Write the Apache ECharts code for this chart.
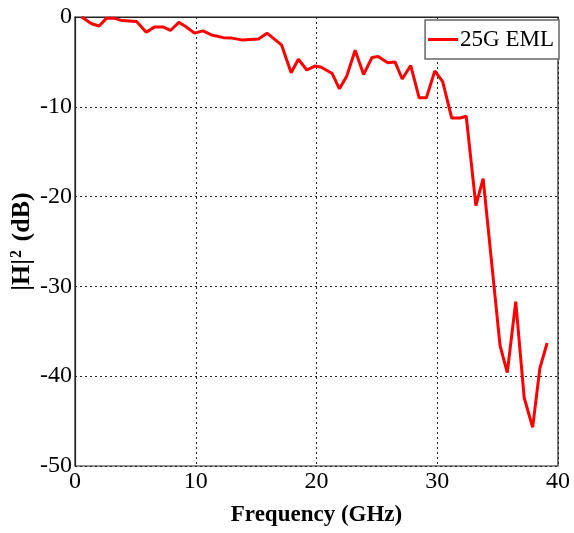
<!DOCTYPE html>
<html>
<head>
<meta charset="utf-8">
<script src="https://cdn.jsdelivr.net/npm/echarts@6/dist/echarts.min.js"></script>
<style>html,body{margin:0;padding:0;background:#fff;}#c{width:574px;height:533px;}</style>
</head>
<body>
<div id="c"></div>
<script>
const seriesName = '25G EML';
const xTicks = [0, 10, 20, 30, 40];
const yTicks = [0, -10, -20, -30, -40, -50];
const freq = [0.55, 1.38, 2.0, 2.6, 3.3, 3.9, 5.1, 5.9, 6.6, 7.3, 7.9, 8.6, 9.1, 9.9, 10.6, 11.3, 12.3, 13.0, 13.8, 14.5, 15.2, 15.9, 17.1, 17.9, 18.5, 19.2, 19.9, 20.4, 21.3, 21.9, 22.5, 23.2, 23.9, 24.6, 25.1, 25.9, 26.5, 27.1, 27.8, 28.5, 29.1, 29.8, 30.45, 31.2, 31.9, 32.4, 33.2, 33.8, 35.2, 35.8, 36.5, 37.2, 37.9, 38.5, 39.1];
const resp = [0, -0.75, -1.0, -0.15, -0.15, -0.4, -0.5, -1.7, -1.1, -1.1, -1.5, -0.6, -1.0, -1.8, -1.55, -2.0, -2.3, -2.35, -2.55, -2.5, -2.45, -1.8, -3.1, -6.2, -4.7, -5.9, -5.45, -5.6, -6.3, -8.0, -6.6, -3.7, -6.4, -4.5, -4.4, -5.1, -5.0, -6.9, -5.4, -9.0, -9.0, -6.0, -7.2, -11.25, -11.25, -11.05, -21.0, -18.0, -36.6, -39.6, -31.7, -42.4, -45.7, -39.1, -36.3];

const chart = echarts.init(document.getElementById('c'), null, {renderer: 'canvas'});
const font = 'Liberation Serif, Times New Roman, serif';
const gridLine = {show: true, lineStyle: {color: '#222', type: [2, 3], width: 1}};
chart.setOption({
  animation: false,
  backgroundColor: '#fff',
  grid: {left: 75, right: 16, top: 17, bottom: 67, outerBoundsMode: 'none', containLabel: false, show: true, borderColor: '#222', borderWidth: 1.2, backgroundColor: 'transparent'},
  legend: {
    data: [seriesName],
    right: 15, top: 20,
    backgroundColor: '#fff',
    borderColor: '#666', borderWidth: 1.5,
    padding: [8, 5, 8, 3],
    itemWidth: 30, itemHeight: 3, itemGap: 2,
    icon: 'rect',
    textStyle: {fontFamily: font, fontSize: 23, color: '#000', padding: [0, 0, 0, -3]}
  },
  xAxis: {
    type: 'value', min: xTicks[0], max: xTicks[xTicks.length - 1], interval: 10,
    name: 'Frequency (GHz)', nameLocation: 'middle', nameGap: 38, nameMoveOverlap: false,
    nameTextStyle: {fontFamily: font, fontSize: 23, fontWeight: 'bold', color: '#000'},
    axisLine: {show: true, lineStyle: {color: '#222', width: 1.2}},
    axisTick: {show: false},
    axisLabel: {fontFamily: font, fontSize: 24, color: '#000', margin: 4},
    splitLine: gridLine
  },
  yAxis: {
    type: 'value', min: yTicks[yTicks.length - 1], max: yTicks[0], interval: 10,
    name: '|H|{sup|2} (dB)', nameLocation: 'middle', nameGap: 40, nameMoveOverlap: false,
    nameTextStyle: {fontFamily: font, fontSize: 26, fontWeight: 'bold', color: '#000',
      rich: {sup: {fontFamily: font, fontSize: 16, fontWeight: 'bold', color: '#000', verticalAlign: 'top', padding: [0, 2, 8, 1]}}},
    axisLine: {show: true, lineStyle: {color: '#222', width: 1.2}},
    axisTick: {show: false},
    axisLabel: {fontFamily: font, fontSize: 24, color: '#000', margin: 3},
    splitLine: gridLine
  },
  series: [{
    name: seriesName, type: 'line',
    data: freq.map((f, i) => [f, resp[i]]),
    showSymbol: false, symbol: 'none',
    lineStyle: {color: '#ff0000', width: 3},
    itemStyle: {color: '#ff0000'}
  }]
});
</script>
</body>
</html>
